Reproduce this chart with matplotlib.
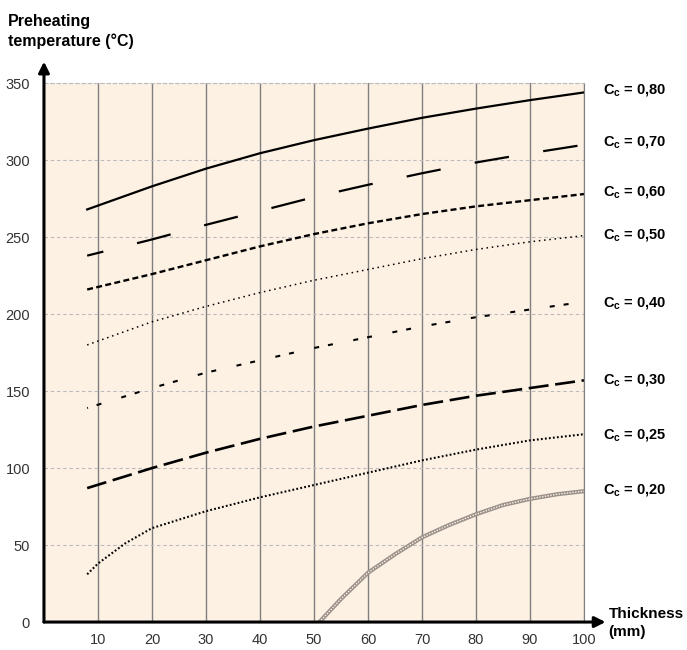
import matplotlib.pyplot as plt
import numpy as np

plt.rcParams['font.family'] = ['Liberation Sans', 'DejaVu Sans']
plt.rcParams['mathtext.fontset'] = 'custom'
plt.rcParams['mathtext.rm'] = 'Liberation Sans:bold'
plt.rcParams['lines.scale_dashes'] = False

# curves: thickness (mm) -> preheating temperature (°C)
x_080 = [8, 20, 30, 40, 50, 60, 70, 80, 90, 100]
y_080 = [268, 283, 294.5, 304.5, 313, 320.5, 327.5, 333.5, 339, 344]

x_070 = [8, 20, 30, 40, 50, 60, 70, 80, 90, 100]
y_070 = [238, 248.5, 258, 267, 276, 284, 291.5, 298.5, 304.5, 310]

x_060 = [8, 20, 30, 40, 50, 60, 70, 80, 90, 100]
y_060 = [216, 226, 235, 244, 252, 259, 265, 270, 274, 278]

x_050 = [8, 20, 30, 40, 50, 60, 70, 80, 90, 100]
y_050 = [180, 195, 205, 214, 222, 229, 236, 242, 247, 251]

x_040 = [8, 20, 30, 40, 50, 60, 70, 80, 90, 100]
y_040 = [139, 152, 162, 170, 178, 185, 192, 198, 203, 208]

x_030 = [8, 20, 30, 40, 50, 60, 70, 80, 90, 100]
y_030 = [87, 100, 110, 119, 127, 134, 141, 147, 152, 157]

x_025 = [8, 10, 15, 20, 30, 40, 50, 60, 70, 80, 90, 100]
y_025 = [31, 38, 51, 61, 72, 81, 89, 97, 105, 112, 118, 122]

x_020 = [51, 55, 60, 65, 70, 75, 80, 85, 90, 95, 100]
y_020 = [0, 15, 32, 44, 55, 63, 70, 76, 80, 83, 85]

labels = ['0,80', '0,70', '0,60', '0,50', '0,40', '0,30', '0,25', '0,20']
label_y = [345, 311, 279, 251, 207, 157, 121, 85]

x_ticks = [10, 20, 30, 40, 50, 60, 70, 80, 90, 100]
y_ticks = [0, 50, 100, 150, 200, 250, 300, 350]

fig = plt.figure(figsize=(6.87, 6.5), dpi=100)
ax = fig.add_axes([0.064, 0.043, 0.786, 0.829])
ax.set_facecolor('#fdf1e4')

ax.plot(x_080, y_080, color='k', lw=1.6)
ax.plot(x_070, y_070, color='k', lw=1.6, linestyle=(13, (25, 25)))
ax.plot(x_060, y_060, color='k', lw=1.7, linestyle=(0, (4.3, 2.4)))
ax.plot(x_050, y_050, color='k', lw=1.1, linestyle=(0, (1.1, 2.7)))
ax.plot(x_040, y_040, color='k', lw=1.5, linestyle=(3, (3.6, 6.5, 3.6, 15)))
ax.plot(x_030, y_030, color='k', lw=1.9, linestyle=(0, (14.4, 4.8)))
ax.plot(x_025, y_025, color='k', lw=1.5, linestyle=(0, (1.3, 1.6)))
ax.plot(x_020, y_020, color='#9a918a', lw=3.0)
ax.plot(x_020, y_020, color='#fdf1e4', lw=1.0, linestyle=(0, (1.0, 1.0)))

ax.set_xlim(0, 100)
ax.set_ylim(0, 350)
ax.set_xticks(x_ticks)
ax.set_yticks(y_ticks)
ax.tick_params(length=0, labelsize=10.5, labelcolor='#333333')
ax.tick_params(axis='x', pad=8)
ax.tick_params(axis='y', pad=10)

ax.grid(axis='x', color='#7f7f7f', lw=1.0)
ax.grid(axis='y', color='#bbbbbb', lw=0.8, linestyle=(0, (2.5, 2)))
ax.set_axisbelow(True)

ax.spines['left'].set_visible(False)
ax.spines['bottom'].set_visible(False)
ax.spines['right'].set_color('#7f7f7f')
ax.spines['top'].set_color('#bbbbbb')
ax.spines['top'].set_linestyle((0, (2.5, 2)))
ax.spines['top'].set_linewidth(0.8)

arrow = dict(arrowstyle='-|>', lw=2.2, color='k', mutation_scale=16, shrinkA=0, shrinkB=0)
ax.annotate('', xy=(0, 1.04), xycoords='axes fraction', xytext=(0, 0), arrowprops=arrow, annotation_clip=False)
ax.annotate('', xy=(1.04, 0), xycoords='axes fraction', xytext=(0, 0), arrowprops=arrow, annotation_clip=False)

for lab, yv in zip(labels, label_y):
    ax.text(103.5, yv, r'C$_\mathrm{c}$ = ' + lab, fontsize=10.5, fontweight='bold', va='center', ha='left', clip_on=False)

fig.text(0.012, 0.925, 'Preheating\ntemperature (°C)', fontsize=11.5, fontweight='bold', ha='left', va='bottom', linespacing=1.35)
fig.text(0.886, 0.017, 'Thickness\n(mm)', fontsize=11, fontweight='bold', ha='left', va='bottom', linespacing=1.4)

fig.savefig('out.png', dpi=100)
